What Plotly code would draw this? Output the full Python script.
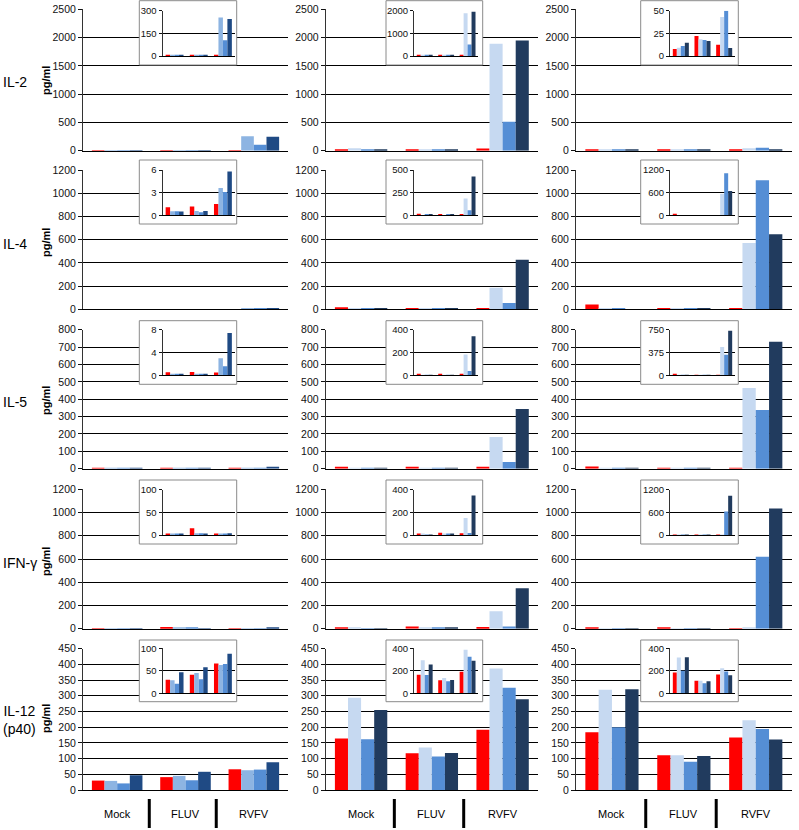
import plotly.graph_objects as go

W, H = 799, 830

groups = ["Mock", "FLUV", "RVFV"]
row_labels = ["IL-2", "IL-4", "IL-5", "IFN-γ", "IL-12<br>(p40)"]

# values per column (3 panels per row), per series (red, light, medium, dark), per group (Mock, FLUV, RVFV)
IL2 = [
    [[6, 6, 6], [5, 5, 255], [6, 5, 105], [6, 6, 245]],
    [[20, 20, 40], [45, 15, 1890], [25, 20, 510], [25, 25, 1950]],
    [[7.7, 22, 12.5], [9, 18.4, 43], [11, 17.6, 50], [14.7, 16.5, 8.8]],
]
IL4 = [
    [[1.06, 1.15, 1.5], [0.53, 0.57, 3.6], [0.53, 0.4, 3.1], [0.5, 0.57, 5.8]],
    [[17, 10, 4], [3, 3, 185], [5, 5, 55], [5, 10, 427]],
    [[41, 8, 5], [3, 5, 571], [3, 3, 1111], [2, 3, 646]],
]
IL5 = [
    [[0.53, 0.58, 0.47], [0.23, 0.23, 3.0], [0.18, 0.18, 1.6], [0.12, 0.23, 7.4]],
    [[10, 10, 10], [3, 3, 182], [5, 5, 38], [5, 5, 343]],
    [[12, 4, 4], [3, 3, 464], [3, 3, 338], [2, 2, 731]],
]
IFNG = [
    [[3, 15, 2], [2, 4, 3], [3, 4, 3], [2, 3, 4]],
    [[5, 20, 15], [6, 5, 150], [3, 10, 18], [3, 8, 348]],
    [[5, 12, 3], [2, 3, 5], [2, 2, 620], [2, 3, 1035]],
]
IL12 = [
    [[30, 41, 66], [29, 45, 63], [21, 31, 65], [47, 58, 88]],
    [[164, 117, 192], [294, 135, 387], [162, 107, 326], [255, 118, 289]],
    [[184, 111, 167], [319, 111, 222], [200, 90, 194], [321, 108, 161]],
]
data_rows = [IL2, IL4, IL5, IFNG, IL12]

main_max = [2500, 1200, 800, 1200, 450]
main_dtick = [500, 200, 100, 200, 50]
inset_max = [[300, 2000, 50], [6, 500, 1200], [8, 400, 750], [100, 400, 1200], [100, 400, 400]]

col_colors = [
    ["#FF0000", "#8DB4E2", "#558ED5", "#1F4A84"],
    ["#FF0000", "#C6D9F1", "#558ED5", "#213B5E"],
    ["#FF0000", "#C6D9F1", "#558ED5", "#213B5E"],
]

# layout geometry (pixels)
main_x = [(83, 288), (325.7, 538), (576, 791.7)]
main_y = [(9.3, 150.7), (170, 309.3), (329.7, 468.7), (489.3, 628.7), (648.7, 790)]
inset_x = [(162.5, 235), (414, 478.3), (670, 735)]
inset_y = [(10.7, 56), (170, 215.3), (329.7, 375.3), (489.5, 535), (648.3, 693.3)]
box_x = [(139.3, 236.7), (386, 482.7), (640.7, 738.3)]
box_y = [(0.7, 65), (160, 224), (320.7, 384.3), (480, 544), (640, 701.7)]

FONT = "Liberation Sans, Arial, Helvetica, sans-serif"


def px_x(a, b):
    return [a / W, b / W]


def px_y(top, bottom):
    return [1 - bottom / H, 1 - top / H]


fig = go.Figure()
layout = {}
shapes = []
annotations = []

for r in range(5):
    for c in range(3):
        k = r * 3 + c
        n_main = k + 1
        n_cover = k + 16
        n_inset = k + 31
        vals = data_rows[r][c]
        cols = col_colors[c]
        # main bars
        for s in range(4):
            fig.add_trace(go.Bar(x=groups, y=vals[s], marker=dict(color=cols[s], line=dict(width=0)),
                                 xaxis=f"x{n_main}", yaxis=f"y{n_main}", showlegend=False,
                                 hoverinfo="skip"))
        # cover subplot (white background of inset box)
        fig.add_trace(go.Scatter(x=[None], y=[None], xaxis=f"x{n_cover}", yaxis=f"y{n_cover}",
                                 showlegend=False, hoverinfo="skip"))
        # inset bars
        for s in range(4):
            fig.add_trace(go.Bar(x=groups, y=vals[s], marker=dict(color=cols[s], line=dict(width=0)),
                                 xaxis=f"x{n_inset}", yaxis=f"y{n_inset}", showlegend=False,
                                 hoverinfo="skip"))

        layout[f"xaxis{n_main}"] = dict(domain=px_x(*main_x[c]), anchor=f"y{n_main}", type="category",
                                         range=[-0.5, 2.5], showticklabels=False, ticks="",
                                         showline=True, linecolor="#000", linewidth=1, showgrid=False,
                                         zeroline=False, automargin=False, fixedrange=True)
        layout[f"yaxis{n_main}"] = dict(domain=px_y(*main_y[r]), anchor=f"x{n_main}",
                                         range=[0, main_max[r]], tick0=0, dtick=main_dtick[r],
                                         showgrid=True, gridcolor="#000", gridwidth=1,
                                         zeroline=False, showline=True, linecolor="#333", linewidth=1,
                                         ticks="outside", ticklen=4, tickcolor="#111", tickwidth=1,
                                         tickfont=dict(family=FONT, size=10.5, color="#111"),
                                         automargin=False, fixedrange=True)
        layout[f"xaxis{n_cover}"] = dict(domain=px_x(*box_x[c]), anchor=f"y{n_cover}", visible=False,
                                          range=[0, 1], automargin=False, fixedrange=True)
        layout[f"yaxis{n_cover}"] = dict(domain=px_y(*box_y[r]), anchor=f"x{n_cover}", visible=False,
                                          range=[0, 1], automargin=False, fixedrange=True)
        im = inset_max[r][c]
        layout[f"xaxis{n_inset}"] = dict(domain=px_x(*inset_x[c]), anchor=f"y{n_inset}", type="category",
                                          range=[-0.5, 2.5], showticklabels=False, ticks="",
                                          showline=True, linecolor="#000", linewidth=1, showgrid=False,
                                          zeroline=False, automargin=False, fixedrange=True)
        layout[f"yaxis{n_inset}"] = dict(domain=px_y(*inset_y[r]), anchor=f"x{n_inset}",
                                          range=[0, im], tick0=0, dtick=im / 2,
                                          showgrid=True, gridcolor="#000", gridwidth=1,
                                          zeroline=False, showline=True, linecolor="#333", linewidth=1,
                                          ticks="outside", ticklen=3, tickcolor="#111", tickwidth=1,
                                          tickfont=dict(family=FONT, size=9.5, color="#111"),
                                          automargin=False, fixedrange=True)
        bx = px_x(*box_x[c])
        by = px_y(*box_y[r])
        shapes.append(dict(type="rect", xref="paper", yref="paper", x0=bx[0], x1=bx[1], y0=by[0], y1=by[1],
                           line=dict(color="#8a8a8a", width=1), fillcolor="rgba(0,0,0,0)", layer="above"))

# row labels and y titles
label_y = [82, 244, 402, 563, 720]
for r in range(5):
    annotations.append(dict(text=row_labels[r], xref="paper", yref="paper", x=1 / W, y=1 - label_y[r] / H,
                            xanchor="left", yanchor="middle", showarrow=False, align="center",
                            font=dict(family=FONT, size=14, color="#000")))
    annotations.append(dict(text="<b>pg/ml</b>", xref="paper", yref="paper", x=46 / W,
                            y=1 - (label_y[r] - 1) / H, xanchor="center", yanchor="middle",
                            showarrow=False, textangle=-90,
                            font=dict(family=FONT, size=11, color="#000")))

# bottom category labels and separators
for c in range(3):
    n = 13 + c
    for g in range(3):
        annotations.append(dict(text=groups[g], xref=f"x{n}", yref="paper", x=g, y=1 - 814 / H,
                                xanchor="center", yanchor="middle", showarrow=False,
                                font=dict(family=FONT, size=11, color="#000")))
    for xs in (0.47, 1.45):
        shapes.append(dict(type="line", xref=f"x{n}", yref="paper", x0=xs, x1=xs,
                           y0=1 - 828 / H, y1=1 - 799 / H, line=dict(color="#000", width=3)))

fig.update_layout(
    width=W, height=H,
    margin=dict(l=0, r=0, t=0, b=0, pad=0, autoexpand=False),
    paper_bgcolor="white", plot_bgcolor="white",
    font=dict(family=FONT, size=11, color="#000"),
    barmode="group", bargap=0.26, bargroupgap=0,
    showlegend=False,
    shapes=shapes, annotations=annotations,
    **layout,
)

fig.write_html("out.html", config={"displayModeBar": False},
               post_script="document.body.style.margin='0px';")
